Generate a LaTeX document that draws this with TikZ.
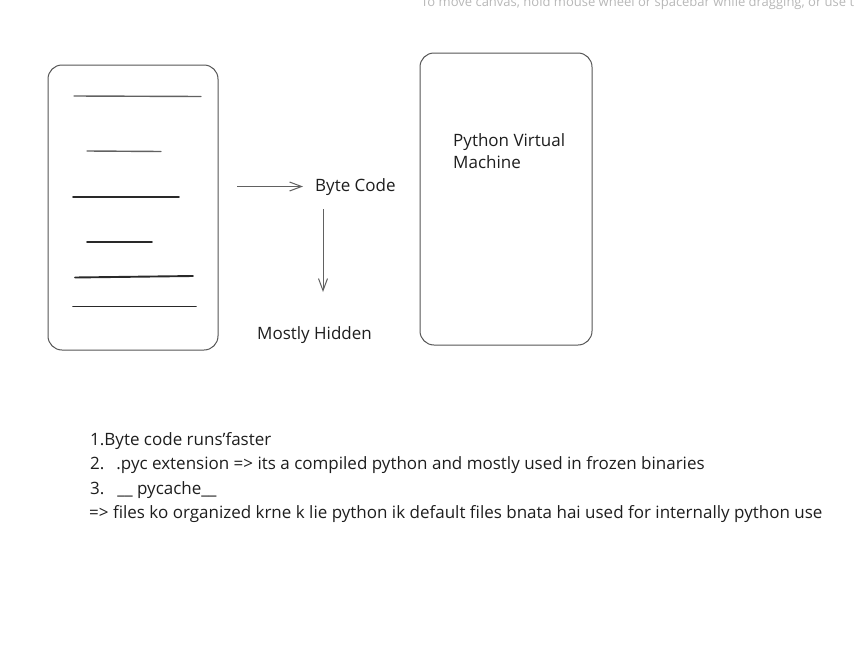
\documentclass[tikz,border=0pt]{standalone}
\usepackage{fontspec}
\setmainfont{Open Sans}
\newfontfamily\hintfont{Open Sans}
\usetikzlibrary{arrows.meta}
\definecolor{ink}{HTML}{1E1E1E}
\definecolor{hint}{HTML}{B8B8B8}
\begin{document}
\begin{tikzpicture}[x=1pt,y=-1pt,
  card/.style={draw=ink!75, line width=1pt, rounded corners=14pt, minimum width=#1, inner sep=0pt},
  scribble/.style={draw=ink!95, line width=1.9pt, line cap=round},
  thinscribble/.style={draw=ink!70, line width=1.4pt, line cap=round},
  arr/.style={draw=ink!70, line width=1pt, -{Straight Barb[length=12pt,width=9pt]}},
  lbl/.style={text=ink, font=\fontsize{17}{22}\selectfont, inner sep=0pt},
  note/.style={text=ink, font=\fontsize{17}{20}\selectfont, inner sep=0pt, anchor=base west},
]
\useasboundingbox (0,0) rectangle (863,656);
\fill[white] (0,0) rectangle (863,656);

% UI hint at top (cut off)
\node[anchor=base west, inner sep=0pt, text=hint, font=\hintfont\fontsize{13}{15}\selectfont] (hintline) at (421,6)
  {To move canvas, hold mouse wheel or spacebar while dragging, or use t};

% left card
\node[card=170pt, minimum height=285pt] (src) at (133,207.5) {};
\draw[thinscribble] (74,96) -- (201,96.5);
\draw[thinscribble] (87,151) -- (161,151.5);
\draw[scribble] (73,197) -- (179,197);
\draw[scribble] (87,242) -- (152,242);
\draw[scribble] (75,277.5) -- (193,276);
\draw[scribble] (73,306.5) -- (196,306.5);

% right card
\node[card=172pt, minimum height=292pt] (pvm) at (506,199) {};
\node[lbl, anchor=north west, align=left] (pvmtext) at (453,133)
  {Python Virtual\\Machine};

% byte code
\node[lbl, anchor=base west] (bc) at (315,191) {Byte Code};
\coordinate (hstart) at (237,186.5);
\draw[arr] (hstart) -- ([xshift=-12pt]bc.west |- hstart);
\coordinate (vstart) at (323,209);
\coordinate (vend) at (323,292);
\draw[arr] (vstart) -- (vend);
\node[lbl, anchor=base west] (hidden) at (257,339) {Mostly Hidden};

% notes
\node[note] (n1) at (90,445) {1.Byte code runs'faster};
\node[note] (n2) at (90,469.5) {2.\hspace{12pt}.pyc extension => its a compiled python and mostly used in frozen binaries};
\node[note] (n3) at (90,494) {3.\hspace{13pt}\_\_ pycache\_\_};
\node[note] (n4) at (89,518) {=> files ko organized krne k lie python ik default files bnata hai used for internally python use};
\end{tikzpicture}
\end{document}
